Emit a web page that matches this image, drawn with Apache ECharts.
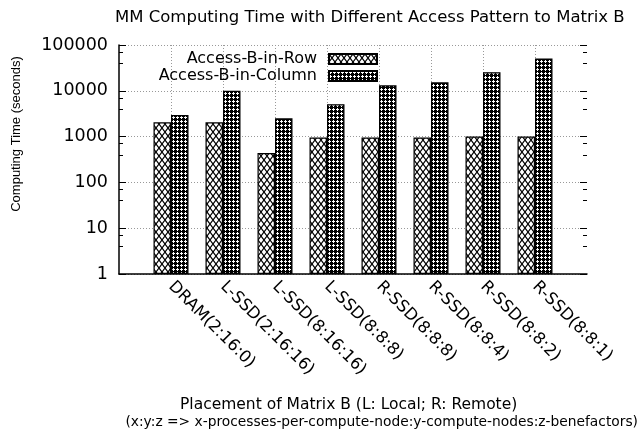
<!DOCTYPE html>
<html>
<head>
<meta charset="utf-8">
<script src="https://cdn.jsdelivr.net/npm/echarts@6/dist/echarts.min.js"></script>
<style>
  html, body { margin: 0; padding: 0; background: #fff; }
  #chart { width: 640px; height: 434px; }
</style>
</head>
<body>
<div id="chart"></div>
<script>
  // data (log scale, seconds)
  const categories = ['DRAM(2:16:0)', 'L-SSD(2:16:16)', 'L-SSD(8:16:16)', 'L-SSD(8:8:8)',
    'R-SSD(8:8:8)', 'R-SSD(8:8:4)', 'R-SSD(8:8:2)', 'R-SSD(8:8:1)'];
  const rowTimes = [2050, 2050, 440, 950, 950, 950, 1000, 1000];
  const colTimes = [2950, 10000, 2500, 5100, 13200, 15300, 25500, 51000];
  const seriesNames = ['Access-B-in-Row', 'Access-B-in-Column'];

  const FONT = 'DejaVu Sans';

  // gnuplot-like fill patterns
  function makePattern(w, h, draw) {
    const c = document.createElement('canvas');
    c.width = w;
    c.height = h;
    draw(c.getContext('2d'), w, h);
    return { image: c, repeat: 'repeat' };
  }
  const crossHatch = makePattern(6, 8, (ctx, w, h) => {
    ctx.fillStyle = '#fff';
    ctx.fillRect(0, 0, w, h);
    ctx.strokeStyle = '#000';
    ctx.lineWidth = 1.2;
    ctx.beginPath();
    ctx.moveTo(0, 0); ctx.lineTo(w, h);
    ctx.moveTo(w, 0); ctx.lineTo(0, h);
    ctx.stroke();
  });
  // fine crosshatch: black with small white plus-shaped holes
  const fineHatch = makePattern(4, 4, (ctx) => {
    ctx.fillStyle = '#000';
    ctx.fillRect(0, 0, 4, 4);
    ctx.fillStyle = '#fff';
    ctx.fillRect(1, 0, 1, 3);
    ctx.fillRect(0, 1, 3, 1);
  });

  // pad one empty slot on each side, like gnuplot's xrange [0:9]
  const xData = [''].concat(categories, ['']);
  const pad = (arr) => [null].concat(arr, [null]);

  const gridLine = { color: '#999', width: 1, type: [1, 2] };

  const legendBase = {
    right: 262, padding: 0, align: 'right', icon: 'rect',
    itemWidth: 48, itemHeight: 10, selectedMode: false,
    textStyle: { fontFamily: FONT, fontSize: 16, color: '#000', padding: [0, 7, 0, 0] },
  };

  const chart = echarts.init(document.getElementById('chart'));
  const option = {
    animation: false,
    textStyle: { fontFamily: FONT },
    title: [
      {
        text: 'MM Computing Time with Different Access Pattern to Matrix B',
        left: 115, top: 9, padding: 0,
        textStyle: { fontFamily: FONT, fontSize: 16.5, fontWeight: 'normal', color: '#000' },
      },
      {
        text: 'Placement of Matrix B (L: Local; R: Remote)',
        left: 180, top: 397, padding: 0,
        textStyle: { fontFamily: FONT, fontSize: 15.5, fontWeight: 'normal', color: '#000' },
      },
      {
        text: '(x:y:z => x-processes-per-compute-node:y-compute-nodes:z-benefactors)',
        right: 2, top: 415, padding: 0,
        textStyle: { fontFamily: FONT, fontSize: 13.8, fontWeight: 'normal', color: '#000' },
      },
    ],
    graphic: [
      {
        type: 'text',
        x: 16, y: 134, rotation: Math.PI / 2,
        style: {
          text: 'Computing Time (seconds)',
          font: '13px "Liberation Sans"', fill: '#000',
          align: 'center', verticalAlign: 'middle',
        },
      },
    ],
    legend: [
      Object.assign({ data: [seriesNames[0]], top: 51 }, legendBase),
      Object.assign({ data: [seriesNames[1]], top: 68 }, legendBase),
    ],
    grid: { left: 119, right: 53, top: 45, bottom: 160, outerBoundsMode: 'none' },
    xAxis: {
      type: 'category',
      data: xData,
      boundaryGap: false,
      axisLine: { lineStyle: { color: '#000', width: 1.5 } },
      axisTick: { show: false },
      axisLabel: { interval: 0, rotate: -45, margin: 10, color: '#000', fontSize: 16.5, fontFamily: FONT },
      splitLine: {
        show: true,
        interval: (i) => i > 0 && i < xData.length - 1,
        lineStyle: gridLine,
      },
    },
    yAxis: [
      {
        type: 'log', logBase: 10, min: 1, max: 100000, splitNumber: 5,
        axisLine: { show: true, lineStyle: { color: '#000', width: 1.5 } },
        axisTick: { show: true, inside: true, length: 7, lineStyle: { color: '#000' } },
        minorTick: { show: true, splitNumber: 3, length: 4, lineStyle: { color: '#000' } },
        axisLabel: { color: '#000', fontSize: 17.5, margin: 11, fontFamily: FONT, formatter: (v) => String(v) },
        splitLine: { show: true, lineStyle: gridLine },
      },
      {
        // mirrored tics on the right, no border line
        type: 'log', logBase: 10, min: 1, max: 100000, splitNumber: 5, position: 'right',
        axisLine: { show: false },
        axisTick: { show: true, inside: true, length: 7, lineStyle: { color: '#000' } },
        minorTick: { show: true, splitNumber: 3, length: 4, lineStyle: { color: '#000' } },
        axisLabel: { show: false },
        splitLine: { show: false },
      },
    ],
    series: [
      {
        name: seriesNames[0],
        type: 'bar',
        data: pad(rowTimes),
        barWidth: 17.5,
        barGap: '0%',
        itemStyle: { color: crossHatch, borderColor: '#000', borderWidth: 1.2 },
      },
      {
        name: seriesNames[1],
        type: 'bar',
        data: pad(colTimes),
        barWidth: 17.5,
        barGap: '0%',
        itemStyle: { color: fineHatch, borderColor: '#000', borderWidth: 1.2 },
      },
    ],
  };
  chart.setOption(option);
</script>
</body>
</html>
